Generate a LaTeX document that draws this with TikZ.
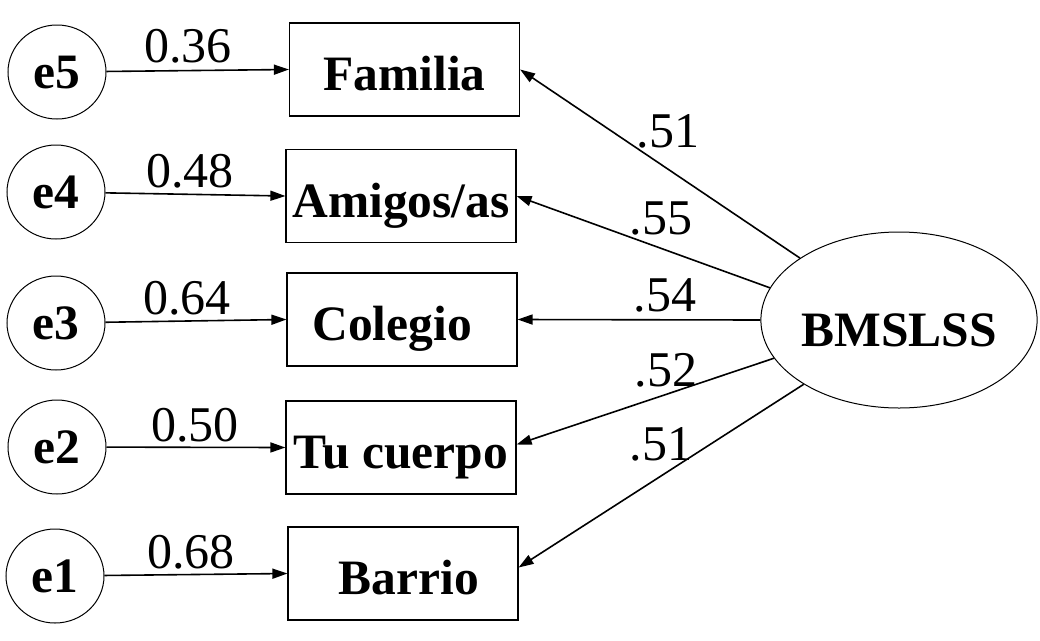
\documentclass[tikz,border=0pt]{standalone}
\usepackage{fontspec}
\setmainfont{Liberation Serif}
\usetikzlibrary{arrows.meta,shapes.geometric}
\begin{document}
\begin{tikzpicture}[x=1pt,y=-1pt,
  err/.style={draw, ellipse, line width=1pt, minimum width=98pt, minimum height=94pt, inner sep=0pt,
    font=\fontsize{49.5}{49.5}\selectfont\bfseries, text height=33pt, text depth=0pt},
  obs/.style={draw, rectangle, line width=1.2pt, minimum width=230pt, minimum height=93pt, inner sep=0pt,
    font=\fontsize{49.5}{49.5}\selectfont\bfseries, text height=42pt, text depth=0pt},
  lat/.style={draw, ellipse, line width=1pt, minimum width=270pt, minimum height=176pt, inner sep=0pt,
    font=\fontsize{49.5}{49.5}\selectfont\bfseries, text height=52pt, text depth=0pt},
  arr/.style={line width=1.6pt, -{Triangle[length=15pt,width=10pt]}},
  num/.style={anchor=base, inner sep=0pt, font=\fontsize{50}{50}\selectfont}
]
\path[use as bounding box, fill=white] (0,0) rectangle (1040,640);

\node[err] (e5) at (57,72) {e5};
\node[err] (e4) at (56,192) {e4};
\node[err] (e3) at (56,323) {e3};
\node[err] (e2) at (57,447) {e2};
\node[err] (e1) at (55,576) {e1};

\node[obs] (fam) at (404.5,69.5) {Familia};
\node[obs] (ami) at (401,196) {Amigos/as};
\node[obs] (col) at (402,319.5) {\hspace*{-20pt}Colegio};
\node[obs] (tu) at (401,447.5) {Tu cuerpo};
\node[obs] (bar) at (403,573.5) {\hspace*{12pt}Barrio};

\node[lat] (bm) at (899,320) {BMSLSS};

\draw[arr] (e5) -- (fam.west);
\draw[arr] (e4) -- (ami.west);
\draw[arr] (e3) -- (col.west);
\draw[arr] (e2) -- (tu.west);
\draw[arr] (e1) -- (bar.west);

\draw[arr] (bm.148) -- (fam.east);
\draw[arr] (bm.166) -- (ami.east);
\draw[arr] (bm.180) -- (col.east);
\draw[arr] (bm.197) -- ([yshift=3pt]tu.east);
\draw[arr] (bm.214) -- ([yshift=6pt]bar.east);

\node[num] (n5) at (188,62) {0.36};
\node[num] (n4) at (190,187) {0.48};
\node[num] (n3) at (187,314) {0.64};
\node[num] (n2) at (195,441) {0.50};
\node[num] (n1) at (191,568) {0.68};

\node[num] (l1) at (668,147) {.51};
\node[num] (l2) at (661,234) {.55};
\node[num] (l3) at (665,311) {.54};
\node[num] (l4) at (666,386) {.52};
\node[num] (l5) at (661,460) {.51};
\end{tikzpicture}
\end{document}
